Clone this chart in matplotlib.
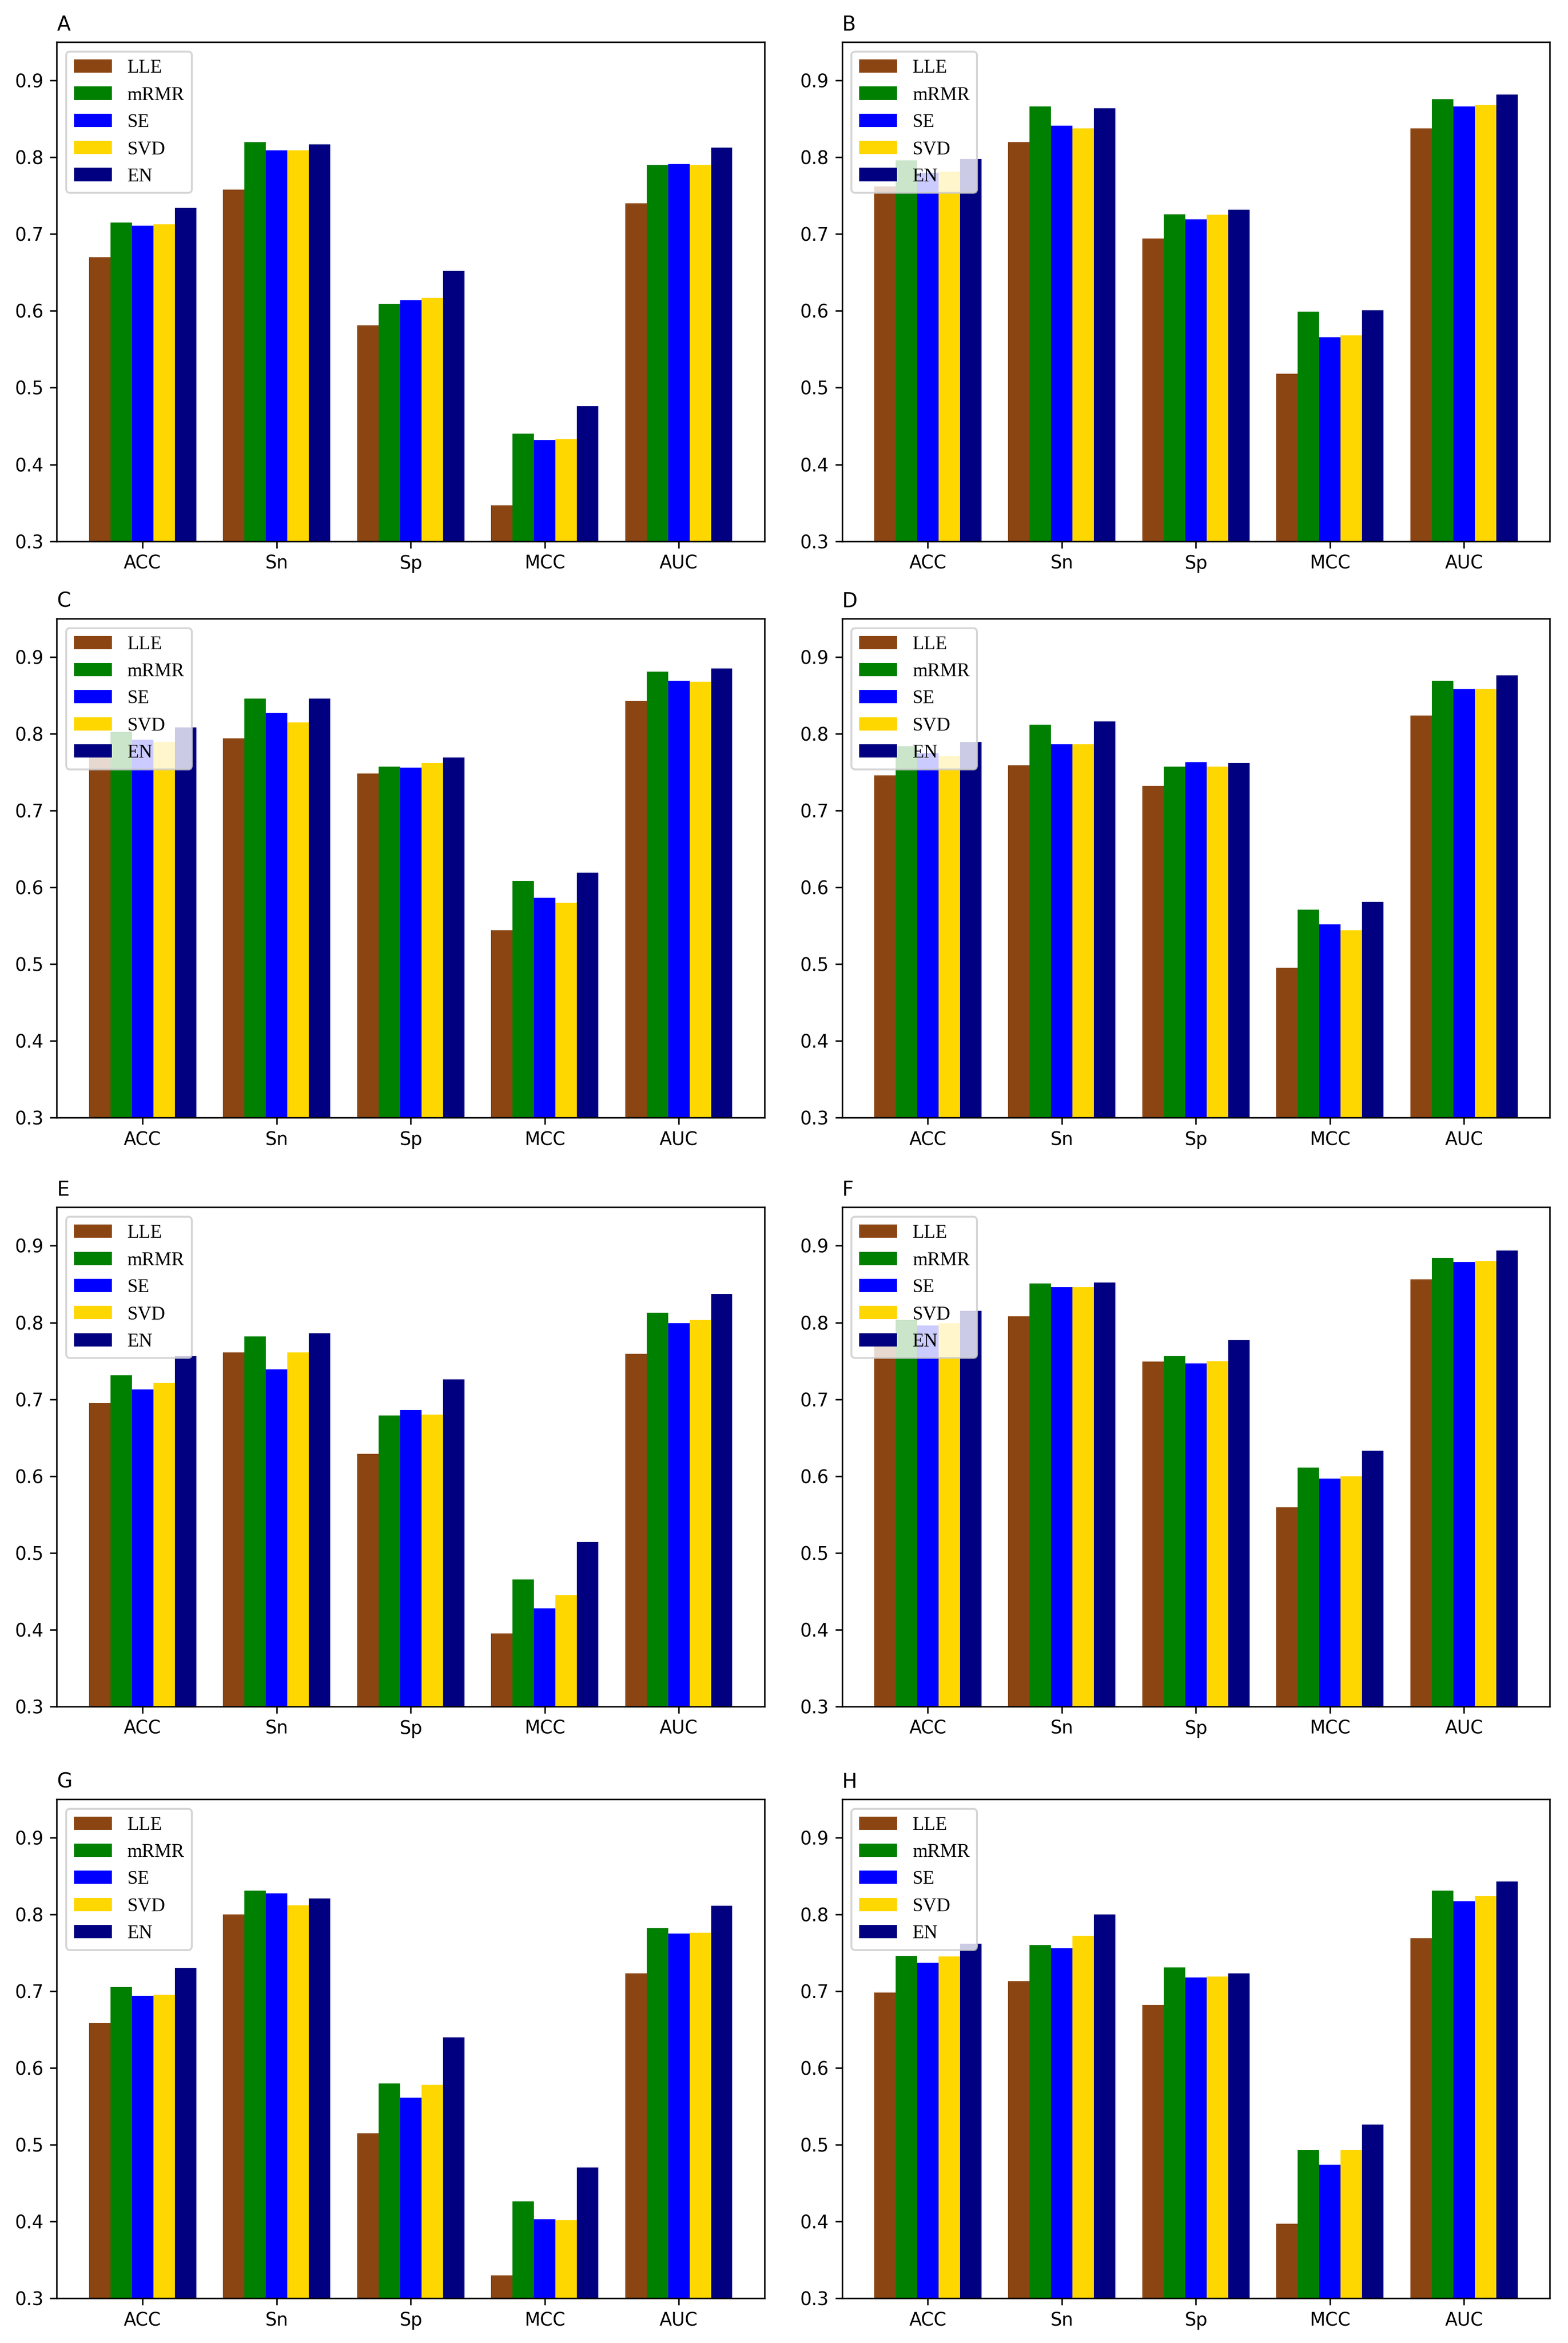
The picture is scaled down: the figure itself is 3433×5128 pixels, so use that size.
import matplotlib
matplotlib.use("Agg")
import matplotlib.pyplot as plt
import numpy as np

metrics = ["ACC", "Sn", "Sp", "MCC", "AUC"]
methods = ["LLE", "mRMR", "SE", "SVD", "EN"]
colors = ["#8B4513", "#008000", "#0000FF", "#FFD700", "#000080"]
panel_labels = ["A", "B", "C", "D", "E", "F", "G", "H"]

# rows: LLE, mRMR, SE, SVD, EN ; columns: ACC, Sn, Sp, MCC, AUC
panel_A = [[0.670, 0.758, 0.581, 0.347, 0.740],
           [0.715, 0.820, 0.609, 0.440, 0.790],
           [0.711, 0.809, 0.614, 0.432, 0.791],
           [0.713, 0.809, 0.617, 0.433, 0.790],
           [0.734, 0.817, 0.652, 0.476, 0.813]]
panel_B = [[0.762, 0.820, 0.694, 0.518, 0.838],
           [0.796, 0.866, 0.726, 0.599, 0.876],
           [0.780, 0.841, 0.719, 0.566, 0.866],
           [0.781, 0.838, 0.725, 0.568, 0.868],
           [0.798, 0.864, 0.732, 0.601, 0.882]]
panel_C = [[0.771, 0.794, 0.748, 0.544, 0.843],
           [0.802, 0.846, 0.757, 0.608, 0.881],
           [0.792, 0.827, 0.756, 0.586, 0.869],
           [0.789, 0.815, 0.762, 0.580, 0.868],
           [0.808, 0.846, 0.769, 0.619, 0.885]]
panel_D = [[0.746, 0.759, 0.732, 0.495, 0.824],
           [0.784, 0.812, 0.757, 0.571, 0.869],
           [0.775, 0.786, 0.763, 0.552, 0.858],
           [0.771, 0.786, 0.757, 0.544, 0.858],
           [0.789, 0.816, 0.762, 0.581, 0.876]]
panel_E = [[0.695, 0.761, 0.629, 0.395, 0.759],
           [0.731, 0.782, 0.679, 0.465, 0.813],
           [0.713, 0.739, 0.686, 0.428, 0.799],
           [0.721, 0.761, 0.680, 0.445, 0.803],
           [0.756, 0.786, 0.726, 0.514, 0.837]]
panel_F = [[0.772, 0.808, 0.749, 0.559, 0.856],
           [0.803, 0.851, 0.756, 0.611, 0.884],
           [0.796, 0.846, 0.747, 0.597, 0.879],
           [0.799, 0.846, 0.750, 0.600, 0.880],
           [0.815, 0.852, 0.777, 0.633, 0.894]]
panel_G = [[0.658, 0.800, 0.515, 0.330, 0.723],
           [0.705, 0.831, 0.580, 0.426, 0.782],
           [0.694, 0.827, 0.561, 0.403, 0.775],
           [0.695, 0.812, 0.578, 0.402, 0.776],
           [0.730, 0.821, 0.640, 0.470, 0.811]]
panel_H = [[0.698, 0.713, 0.682, 0.397, 0.769],
           [0.746, 0.760, 0.731, 0.493, 0.831],
           [0.737, 0.756, 0.718, 0.474, 0.817],
           [0.745, 0.772, 0.719, 0.493, 0.824],
           [0.762, 0.800, 0.723, 0.526, 0.843]]

panels = [panel_A, panel_B, panel_C, panel_D, panel_E, panel_F, panel_G, panel_H]

W, H = 3433, 5128
DPI = 300
fig = plt.figure(figsize=(W / DPI, H / DPI), dpi=DPI)

lefts = [0.0362, 0.537]
bottoms = [0.769, 0.523, 0.2717, 0.0191]
aw, ah = 0.4514, 0.2130

bar_w = 0.16
x = np.arange(len(metrics))

for i, (lab, data) in enumerate(zip(panel_labels, panels)):
    r, c = divmod(i, 2)
    ax = fig.add_axes([lefts[c], bottoms[r], aw, ah])
    for j, (m, col) in enumerate(zip(methods, colors)):
        ax.bar(x + (j - 2) * bar_w, data[j], width=bar_w, color=col, label=m)
    ax.set_ylim(0.3, 0.95)
    ax.set_xticks(x)
    ax.set_xticklabels(metrics, fontsize=9.5)
    ax.set_yticks([0.3, 0.4, 0.5, 0.6, 0.7, 0.8, 0.9])
    ax.tick_params(axis="y", labelsize=9.5)
    ax.set_title(lab, loc="left", fontsize=10.5)
    ax.legend(loc="upper left", prop={"family": "Liberation Serif", "size": 10})

fig.savefig("out.png", dpi=DPI)
